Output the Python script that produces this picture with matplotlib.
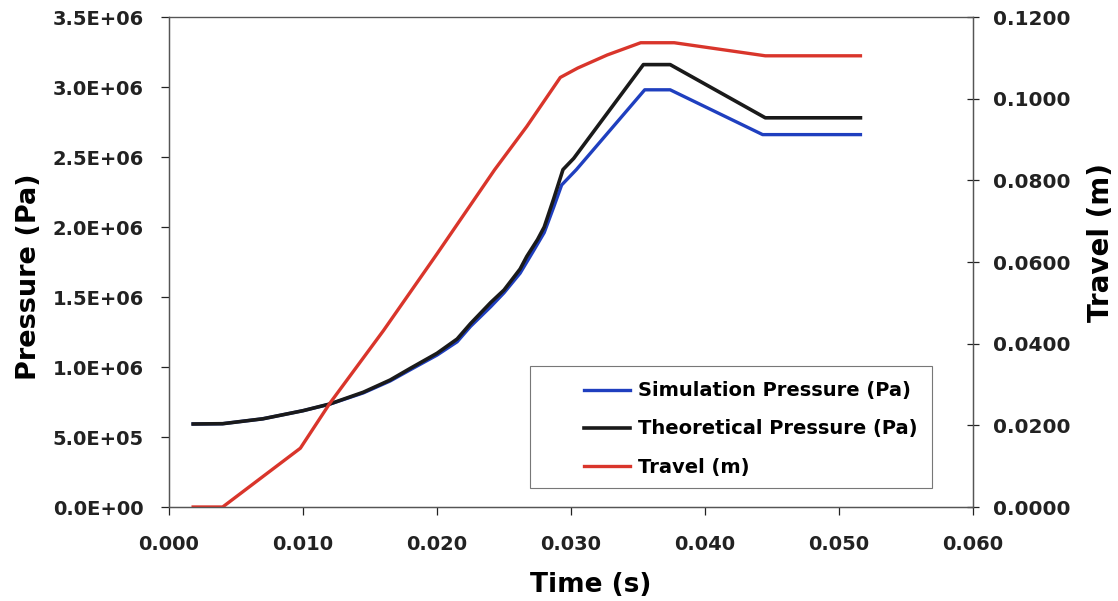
import numpy as np
import matplotlib.pyplot as plt
from matplotlib.patches import Rectangle
from matplotlib.ticker import FuncFormatter

plt.rcParams['font.family'] = ['DejaVu Sans']
plt.rcParams['font.weight'] = 'bold'

# theoretical pressure (Pa) vs time (s)
t_theo = [0.0018, 0.004, 0.007, 0.010, 0.012, 0.0145, 0.0165, 0.018, 0.020, 0.0215,
          0.0225, 0.024, 0.0250, 0.0262, 0.0267, 0.0275, 0.028, 0.0287, 0.0294,
          0.0302, 0.0354, 0.0374, 0.0445, 0.0516]
p_theo = [0.593e6, 0.595e6, 0.63e6, 0.688e6, 0.736e6, 0.82e6, 0.907e6, 0.99e6, 1.098e6,
          1.2e6, 1.31e6, 1.46e6, 1.55e6, 1.70e6, 1.79e6, 1.91e6, 2.0e6, 2.2e6, 2.41e6,
          2.49e6, 3.16e6, 3.16e6, 2.78e6, 2.78e6]

# simulation pressure (Pa)
t_sim = [0.0018, 0.004, 0.007, 0.010, 0.012, 0.0145, 0.0165, 0.018, 0.020, 0.0215,
         0.0225, 0.024, 0.0250, 0.0262, 0.0272, 0.028, 0.0287, 0.0293,
         0.0304, 0.0355, 0.0374, 0.0443, 0.0516]
p_sim = [0.593e6, 0.595e6, 0.63e6, 0.688e6, 0.735e6, 0.815e6, 0.9e6, 0.98e6, 1.085e6,
         1.18e6, 1.29e6, 1.43e6, 1.53e6, 1.67e6, 1.83e6, 1.96e6, 2.14e6, 2.30e6,
         2.41e6, 2.98e6, 2.98e6, 2.66e6, 2.66e6]

# travel (m)
t_trav = [0.0018, 0.004, 0.0098, 0.012, 0.016, 0.0200, 0.0243, 0.0267, 0.0292,
          0.0305, 0.0327, 0.0352, 0.0377, 0.0445, 0.0516]
travel = [0.0, 0.0, 0.0144, 0.0254, 0.0432, 0.0620, 0.0826, 0.0932, 0.1052,
          0.1075, 0.1107, 0.1137, 0.1137, 0.1105, 0.1105]

x_ticks = [0.0, 0.01, 0.02, 0.03, 0.04, 0.05, 0.06]
p_ticks = [0, 0.5e6, 1.0e6, 1.5e6, 2.0e6, 2.5e6, 3.0e6, 3.5e6]
trav_ticks = [0.0, 0.02, 0.04, 0.06, 0.08, 0.10, 0.12]

fig = plt.figure(figsize=(11.18, 6.01), dpi=100)
ax = fig.add_axes([0.1512, 0.1564, 0.7191, 0.8153])
ax2 = ax.twinx()

l1, = ax.plot(t_sim, p_sim, color='#1f3fbf', lw=2.4, label='Simulation Pressure (Pa)')
l2, = ax.plot(t_theo, p_theo, color='#1a1a1a', lw=2.6, label='Theoretical Pressure (Pa)')
l3, = ax2.plot(t_trav, travel, color='#d9352b', lw=2.4, label='Travel (m)')

ax.set_xlim(0, 0.06)
ax.set_ylim(0, 3.5e6)
ax2.set_ylim(0, 0.12)
ax.set_xticks(x_ticks)
ax.set_yticks(p_ticks)
ax2.set_yticks(trav_ticks)
ax.xaxis.set_major_formatter(FuncFormatter(lambda v, p: f'{v:.3f}'))
ax.yaxis.set_major_formatter(FuncFormatter(lambda v, p: f'{v:.1E}'))
ax2.yaxis.set_major_formatter(FuncFormatter(lambda v, p: f'{v:.4f}'))

for a in (ax, ax2):
    for s in a.spines.values():
        s.set_color('#555555')
        s.set_linewidth(0.9)
    a.tick_params(labelsize=14, colors='#222222', width=0.9)
ax.spines['top'].set_color('#aaaaaa')
ax.tick_params(axis='y', direction='out', length=6, pad=12)
ax2.tick_params(axis='y', direction='inout', length=9, pad=10)
ax2.tick_params(axis='y', labelsize=14.5)
ax.tick_params(axis='x', direction='out', length=6, pad=14)

ax.set_xlabel('Time (s)', fontsize=19, fontweight='bold')
ax.xaxis.set_label_coords(0.524, -0.133)
ax.set_ylabel('Pressure (Pa)', fontsize=19.5, fontweight='bold')
ax.yaxis.set_label_coords(-0.158, 0.47)
ax2.set_ylabel('Travel (m)', fontsize=20, fontweight='bold', rotation=90)
ax2.yaxis.set_label_coords(1.142, 0.54)

# legend frame (Excel style, wide left margin)
ax.add_patch(Rectangle((0.449, 0.039), 0.5, 0.248, transform=ax.transAxes,
                       facecolor='white', edgecolor='#777777', lw=0.8, zorder=4))
leg = ax.legend(handles=[l1, l2, l3], loc='upper left', bbox_to_anchor=(0.494, 0.292),
                fontsize=14, frameon=False, handlelength=2.4,
                borderpad=0.4, labelspacing=0.98, handletextpad=0.4)
leg.set_zorder(5)

fig.savefig('out.png', dpi=100)
